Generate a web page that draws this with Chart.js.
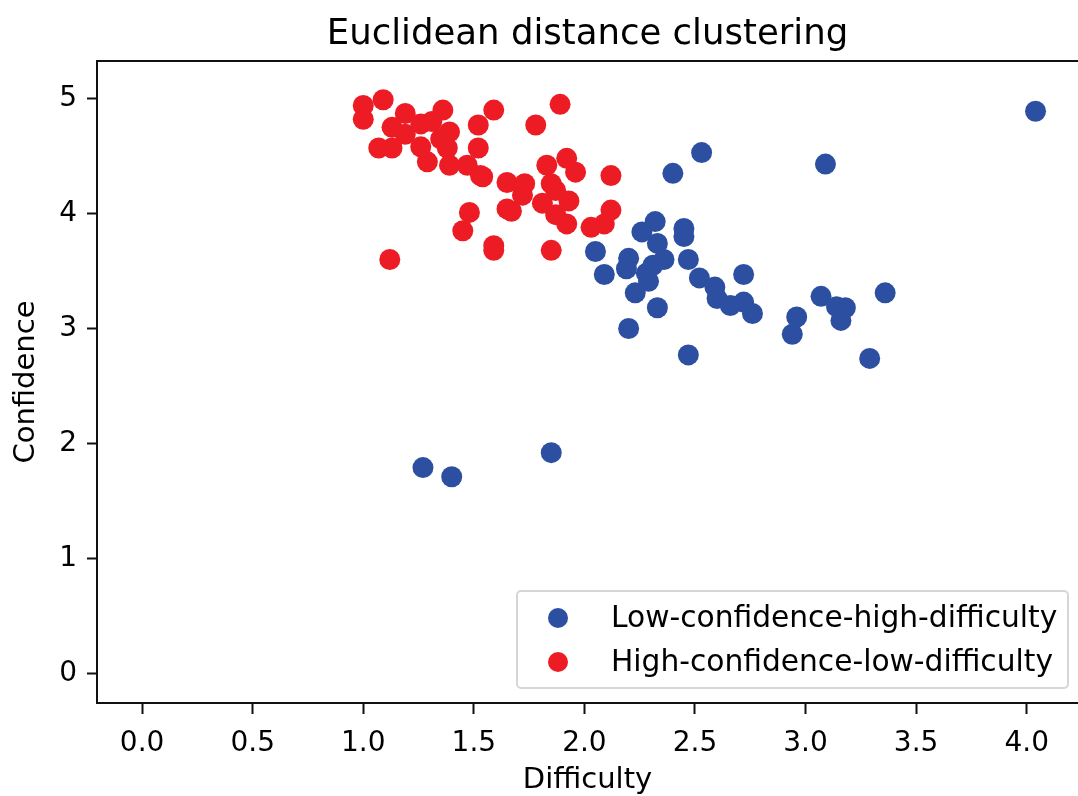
<!DOCTYPE html>
<html lang="en">
<head>
<meta charset="UTF-8">
<title>Euclidean distance clustering</title>
<script src="https://cdn.jsdelivr.net/npm/chart.js@4/dist/chart.umd.min.js"></script>
<style>
  body { margin: 0; background: #fff; }
  #wrap { width: 1078px; height: 796px; }
</style>
</head>
<body>
<div id="wrap"><canvas id="chart"></canvas></div>
<script>
// cluster 1: low confidence / high difficulty
const lowConfX = [2.53, 2.40, 3.09, 2.32, 2.26, 2.45, 2.45, 2.33, 2.05, 2.47,
                  2.36, 2.20, 2.19, 2.28, 2.09, 2.23, 2.29, 2.33, 2.20, 2.47,
                  2.52, 2.59, 2.60, 2.66, 2.72, 2.72, 2.76, 2.96, 2.94, 3.07,
                  3.18, 3.16, 3.14, 3.36, 3.29, 4.04, 1.27, 1.40, 1.85, 2.31];
const lowConfY = [4.53, 4.35, 4.43, 3.93, 3.84, 3.87, 3.80, 3.74, 3.67, 3.60,
                  3.60, 3.61, 3.52, 3.48, 3.47, 3.31, 3.41, 3.18, 3.00, 2.77,
                  3.44, 3.36, 3.26, 3.20, 3.47, 3.23, 3.13, 3.10, 2.95, 3.28,
                  3.18, 3.07, 3.19, 3.31, 2.74, 4.89, 1.79, 1.71, 1.92, 3.55];

// cluster 2: high confidence / low difficulty
const highConfX = [1.00, 1.00, 1.09, 1.19, 1.36, 1.59, 1.89, 1.52, 1.78, 1.07,
                   1.13, 1.13, 1.26, 1.31, 1.39, 1.26, 1.29, 1.38, 1.39, 1.52,
                   1.47, 1.54, 1.65, 1.73, 1.72, 1.83, 1.92, 1.96, 1.85, 1.81,
                   1.93, 1.87, 1.92, 2.12, 2.12, 2.03, 2.09, 1.48, 1.45, 1.65,
                   1.67, 1.59, 1.59, 1.85, 1.12, 1.19, 1.35, 1.53, 1.87];
const highConfY = [4.94, 4.82, 4.99, 4.87, 4.90, 4.90, 4.95, 4.77, 4.77, 4.57,
                   4.57, 4.75, 4.78, 4.80, 4.71, 4.58, 4.45, 4.57, 4.42, 4.57,
                   4.42, 4.32, 4.27, 4.26, 4.16, 4.42, 4.48, 4.36, 4.26, 4.09,
                   4.11, 3.99, 3.91, 4.33, 4.03, 3.88, 3.91, 4.01, 3.85, 4.04,
                   4.02, 3.72, 3.68, 3.68, 3.60, 4.69, 4.65, 4.33, 4.20];

const xTicks = [0, 0.5, 1, 1.5, 2, 2.5, 3, 3.5, 4];
const yTicks = [0, 1, 2, 3, 4, 5];

const FONT = "'DejaVu Sans', sans-serif";
const BLUE = '#2d4fa1';
const RED = '#ed1c24';

const toPoints = (xs, ys) => xs.map((x, i) => ({ x: x, y: ys[i] }));

// top spine (left/bottom come from the axis borders, right one is off-canvas)
const topSpine = {
  id: 'topSpine',
  afterDraw(chart) {
    const { ctx, chartArea } = chart;
    ctx.save();
    ctx.strokeStyle = '#111';
    ctx.lineWidth = 2;
    ctx.beginPath();
    ctx.moveTo(chartArea.left - 1, chartArea.top);
    ctx.lineTo(chartArea.right + 2, chartArea.top);
    ctx.stroke();
    ctx.restore();
  }
};

// matplotlib-like framed legend in the lower right corner
const boxLegend = {
  id: 'boxLegend',
  afterDraw(chart) {
    const { ctx, chartArea } = chart;
    const w = 551, h = 97;
    const x = chartArea.right - 10 - w;
    const y = chartArea.bottom - 15 - h;
    ctx.save();
    ctx.beginPath();
    ctx.roundRect(x, y, w, h, 4);
    ctx.fillStyle = 'rgba(255,255,255,0.8)';
    ctx.fill();
    ctx.strokeStyle = '#d6d6d6';
    ctx.lineWidth = 2;
    ctx.stroke();
    ctx.font = '29.7px ' + FONT;
    ctx.textBaseline = 'middle';
    chart.data.datasets.forEach((ds, i) => {
      const cy = y + 27 + i * 44;
      ctx.beginPath();
      ctx.arc(x + 41, cy, 10, 0, Math.PI * 2);
      ctx.fillStyle = ds.backgroundColor;
      ctx.fill();
      ctx.fillStyle = '#000';
      ctx.fillText(ds.label, x + 94, cy + 1);
    });
    ctx.restore();
  }
};

new Chart(document.getElementById('chart'), {
  type: 'scatter',
  data: {
    datasets: [
      {
        label: 'Low-confidence-high-difficulty',
        data: toPoints(lowConfX, lowConfY),
        backgroundColor: BLUE,
        borderWidth: 0,
        pointRadius: 10.5,
        order: 1
      },
      {
        label: 'High-confidence-low-difficulty',
        data: toPoints(highConfX, highConfY),
        backgroundColor: RED,
        borderWidth: 0,
        pointRadius: 10.5,
        order: 0
      }
    ]
  },
  options: {
    responsive: true,
    maintainAspectRatio: false,
    animation: false,
    layout: { padding: 0, autoPadding: false },
    plugins: {
      legend: { display: false },
      tooltip: { enabled: false },
      title: {
        display: true,
        fullSize: false,
        text: 'Euclidean distance clustering',
        color: '#000',
        font: { family: FONT, size: 35.5, weight: 'normal' },
        padding: { top: 13, bottom: 5.4 }
      }
    },
    scales: {
      x: {
        type: 'linear',
        min: -0.204,
        max: 4.232,
        afterFit(scale) {
          scale.height = 93;
          scale.paddingLeft = 0;
          scale.paddingRight = 0;
        },
        afterBuildTicks(scale) { scale.ticks = xTicks.map(v => ({ value: v })); },
        grid: { drawOnChartArea: false, drawTicks: true, tickLength: 11, tickWidth: 2, color: '#111' },
        border: { display: true, color: '#111', width: 2 },
        ticks: {
          color: '#000',
          font: { family: FONT, size: 28 },
          padding: 13,
          maxRotation: 0,
          callback: v => v.toFixed(1)
        },
        title: {
          display: true,
          text: 'Difficulty',
          color: '#000',
          font: { family: FONT, size: 29 },
          padding: { top: 0, bottom: -2 }
        }
      },
      y: {
        type: 'linear',
        min: -0.258,
        max: 5.327,
        afterFit(scale) {
          scale.width = 97;
          scale.paddingTop = 0;
          scale.paddingBottom = 0;
        },
        afterBuildTicks(scale) { scale.ticks = yTicks.map(v => ({ value: v })); },
        grid: { drawOnChartArea: false, drawTicks: true, tickLength: 10, tickWidth: 2, color: '#111' },
        border: { display: true, color: '#111', width: 2 },
        ticks: {
          color: '#000',
          font: { family: FONT, size: 28 },
          padding: 10,
          callback: v => String(v)
        },
        title: {
          display: true,
          text: 'Confidence',
          color: '#000',
          font: { family: FONT, size: 29 },
          padding: { top: 9, bottom: 0 }
        }
      }
    }
  },
  plugins: [topSpine, boxLegend]
});
</script>
</body>
</html>
